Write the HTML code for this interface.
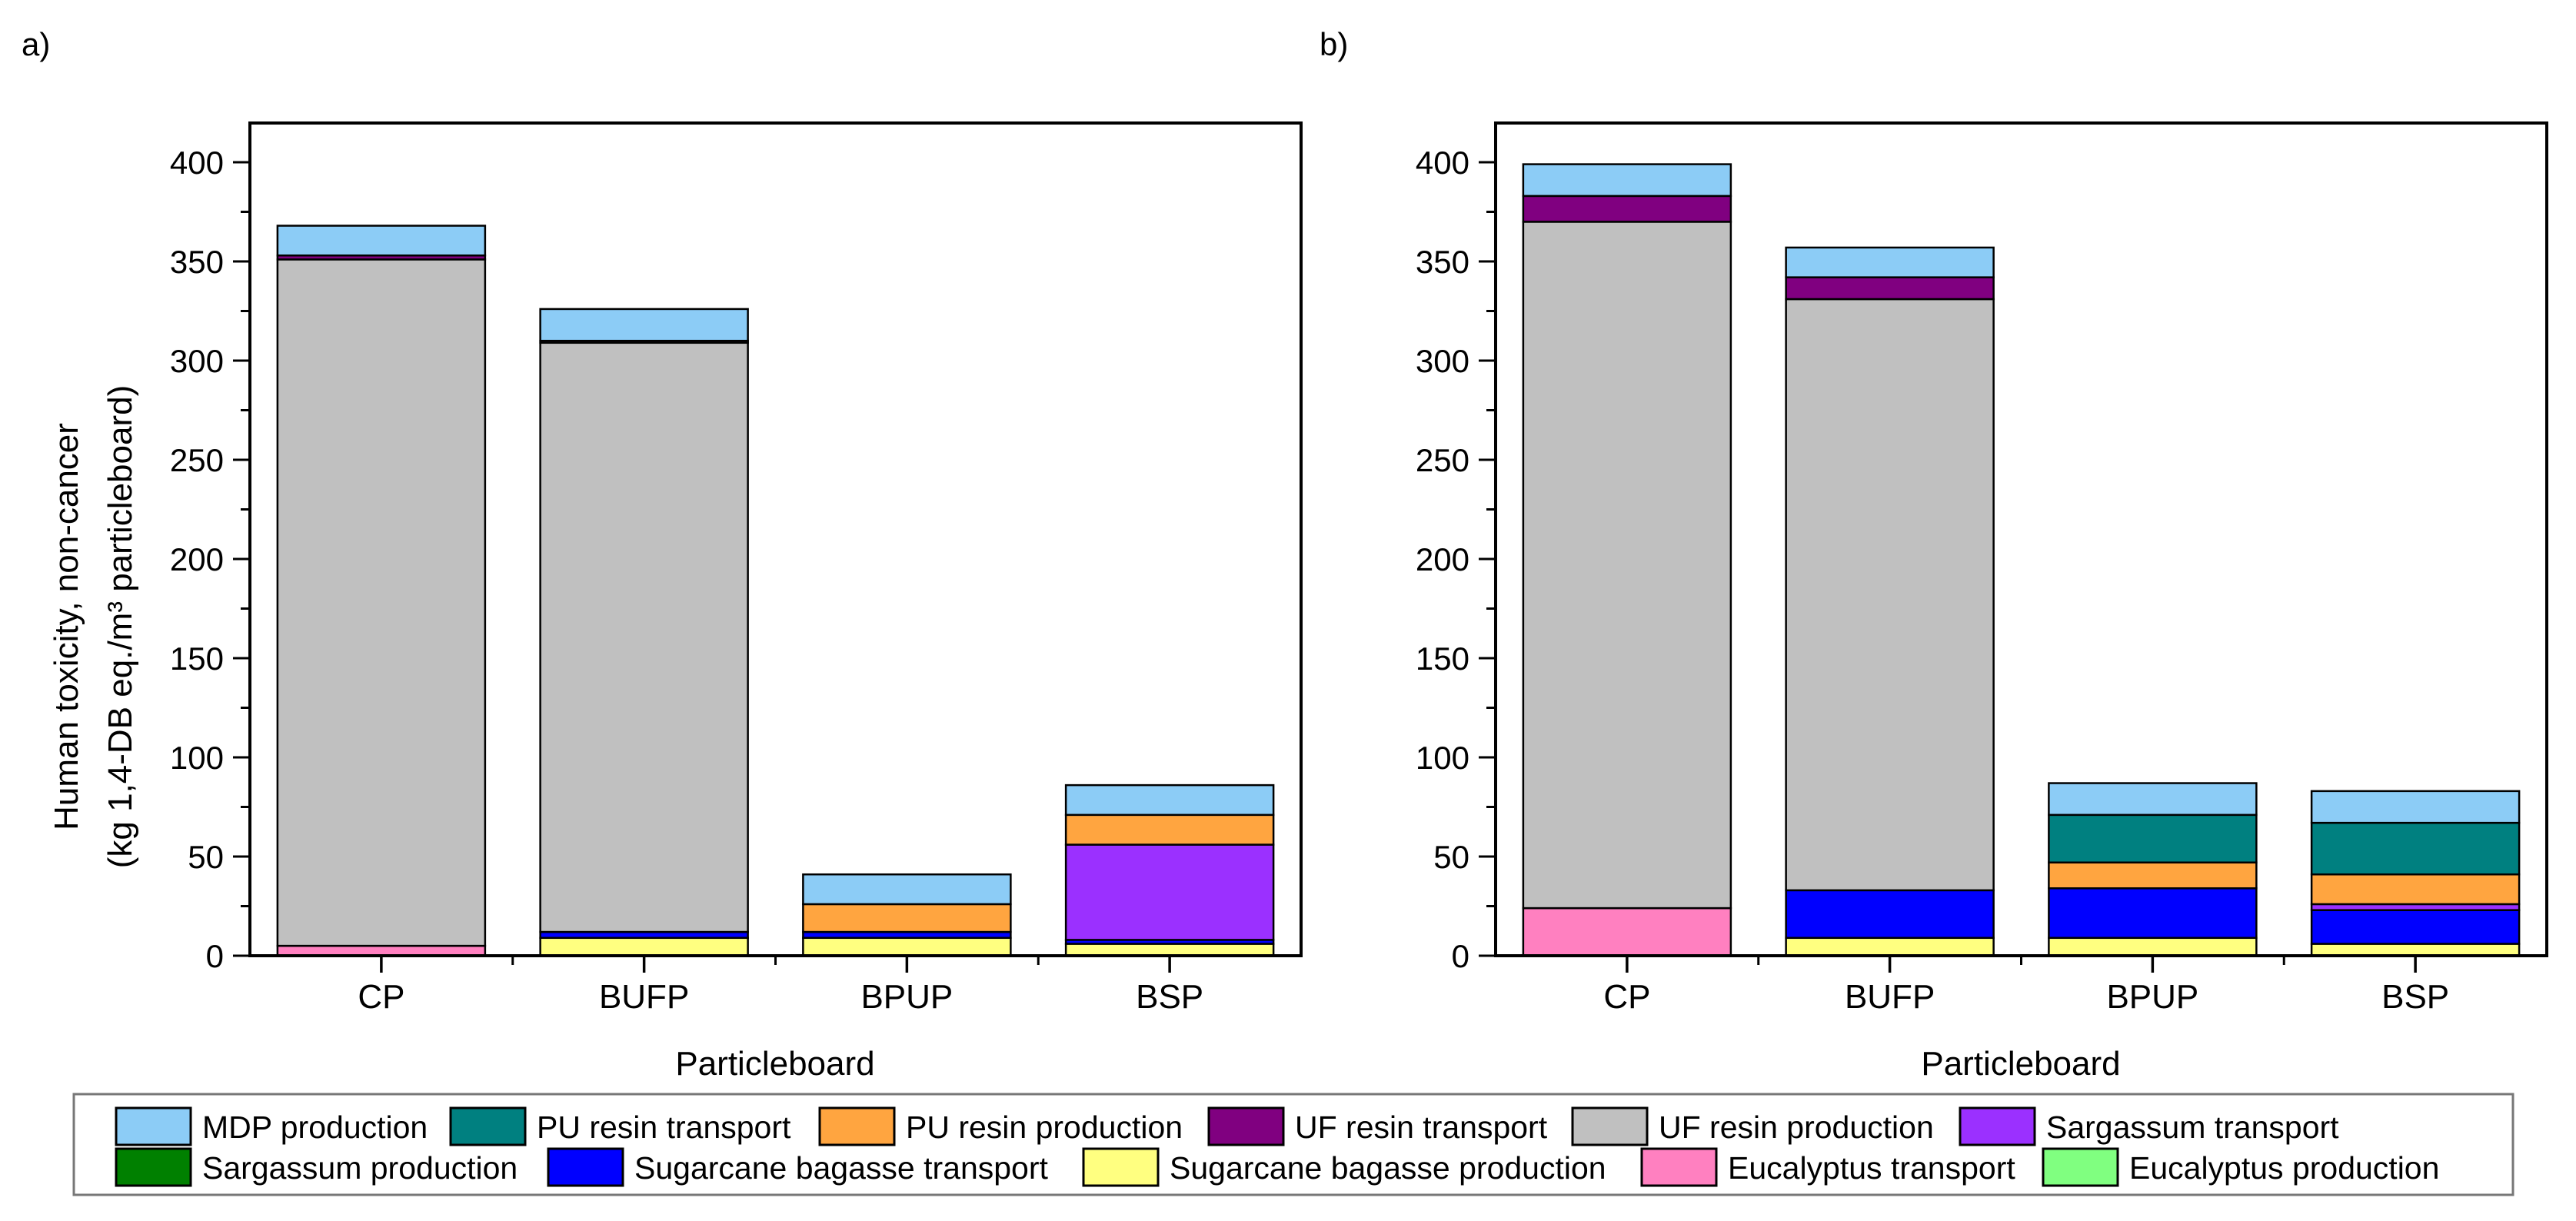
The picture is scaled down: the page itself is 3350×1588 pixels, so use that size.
<!DOCTYPE html>
<html><head><meta charset="utf-8"><style>
html,body{margin:0;padding:0;background:#fff;}
svg{display:block;font-family:"Liberation Sans",Arial,sans-serif;}
</style></head><body>
<svg id="chart" width="3350" height="1588" viewBox="0 0 3350 1588" xmlns="http://www.w3.org/2000/svg">
<text x="28" y="72" font-size="42">a)</text>
<text x="1716" y="72" font-size="42">b)</text>
<g>
<text transform="translate(101,815) rotate(-90)" text-anchor="middle" font-size="44">Human toxicity, non-cancer</text>
<text transform="translate(171,815) rotate(-90)" text-anchor="middle" font-size="44">(kg 1,4-DB eq./m³ particleboard)</text>
</g>
<text x="1008" y="1398" text-anchor="middle" font-size="44">Particleboard</text>
<text x="2628" y="1398" text-anchor="middle" font-size="44">Particleboard</text>
<g id="legend">
<rect x="96" y="1423" width="3172" height="131" fill="#fff" stroke="#777" stroke-width="3"/>
</g>
</svg>
<script>
const categories = ["CP","BUFP","BPUP","BSP"];
const seriesNames = ["Eucalyptus production","Eucalyptus transport","Sugarcane bagasse production","Sugarcane bagasse transport","Sargassum production","Sargassum transport","UF resin production","UF resin transport","PU resin production","PU resin transport","MDP production"];
const seriesColors = ["#80FF80","#FF80C0","#FFFF80","#0000FF","#008000","#9B30FF","#C0C0C0","#800080","#FFA540","#008080","#8CCCF6"];
// panel a values (stack order bottom->top, same order as seriesNames)
const aEucProd = [0,0,0,0];
const aEucTrans = [5,0,0,0];
const aSugProd = [0,9,9,6];
const aSugTrans = [0,3,3,2];
const aSarProd = [0,0,0,0];
const aSarTrans = [0,0,0,48];
const aUFProd = [346,297,0,0];
const aUFTrans = [2,1,0,0];
const aPUProd = [0,0,14,15];
const aPUTrans = [0,0,0,0];
const aMDP = [15,16,15,15];
// panel b values
const bEucProd = [0,0,0,0];
const bEucTrans = [24,0,0,0];
const bSugProd = [0,9,9,6];
const bSugTrans = [0,24,25,17];
const bSarProd = [0,0,0,0];
const bSarTrans = [0,0,0,3];
const bUFProd = [346,298,0,0];
const bUFTrans = [13,11,0,0];
const bPUProd = [0,0,13,15];
const bPUTrans = [0,0,24,26];
const bMDP = [16,15,16,16];
const yTicks = [0,50,100,150,200,250,300,350,400];
const legendOrder = ["MDP production","PU resin transport","PU resin production","UF resin transport","UF resin production","Sargassum transport","Sargassum production","Sugarcane bagasse transport","Sugarcane bagasse production","Eucalyptus transport","Eucalyptus production"];

const NS="http://www.w3.org/2000/svg";
const svg=document.getElementById('chart');
function mk(tag,attrs,parent){const e=document.createElementNS(NS,tag);for(const k in attrs)e.setAttribute(k,attrs[k]);(parent||svg).appendChild(e);return e;}
const y0=1243, pxPer=2.58, plotTop=160;
function yScale(v){return y0-v*pxPer;}

function panel(left,right,series,id){
  const g=mk('g',{});
  
  
  const w=right-left, step=w/categories.length;
  function xScale(i){return left+step*(i+0.5);}
  const bw=270;
  categories.forEach((c,i)=>{
    let acc=0;
    series.forEach((arr,s)=>{
      const v=arr[i]; if(v<=0) return;
      const r=mk('rect',{x:xScale(i)-bw/2,y:yScale(acc+v),width:bw,height:v*pxPer,fill:seriesColors[s],stroke:'#000','stroke-width':2.5},g);
      
      
      acc+=v;
    });
    const lbl=mk('text',{x:xScale(i),y:1311,'text-anchor':'middle','font-size':44},g);
    lbl.textContent=c;
    
    
    mk('line',{x1:xScale(i),x2:xScale(i),y1:y0,y2:y0+22,stroke:'#000','stroke-width':3.5},g);
    if(i>0) mk('line',{x1:left+step*i,x2:left+step*i,y1:y0,y2:y0+12,stroke:'#000','stroke-width':3},g);
  });
  yTicks.forEach((t,k)=>{
    const y=yScale(t);
    mk('line',{x1:left-22,x2:left,y1:y,y2:y,stroke:'#000','stroke-width':3},g);
    const tl=mk('text',{x:left-34,y:y+15,'text-anchor':'end','font-size':42},g);
    tl.textContent=t;
    
    
    if(k<yTicks.length-1){const ym=yScale(t+25);mk('line',{x1:left-12,x2:left,y1:ym,y2:ym,stroke:'#000','stroke-width':3},g);}
  });
  const fr=mk('rect',{x:left,y:plotTop,width:w,height:y0-plotTop,fill:'none',stroke:'#000','stroke-width':4},g);
  
  
}
panel(325,1692,[aEucProd,aEucTrans,aSugProd,aSugTrans,aSarProd,aSarTrans,aUFProd,aUFTrans,aPUProd,aPUTrans,aMDP],'a');
panel(1945,3312,[bEucProd,bEucTrans,bSugProd,bSugTrans,bSarProd,bSarTrans,bUFProd,bUFTrans,bPUProd,bPUTrans,bMDP],'b');

const lg=document.getElementById('legend');
const legX=[151,586,1066,1572,2045,2549,151,713,1409,2135,2657];
legendOrder.forEach((n,i)=>{
  const row=i<6?0:1;
  const y=1441+row*53;
  const col=seriesColors[seriesNames.indexOf(n)];
  const g=mk('g',{},lg);
  
  
  mk('rect',{x:legX[i],y:y,width:97,height:48,fill:col,stroke:'#000','stroke-width':3},g);
  const t=mk('text',{x:legX[i]+112,y:y+39,'font-size':41},g);
  t.textContent=n;
});
</script>
</body></html>
